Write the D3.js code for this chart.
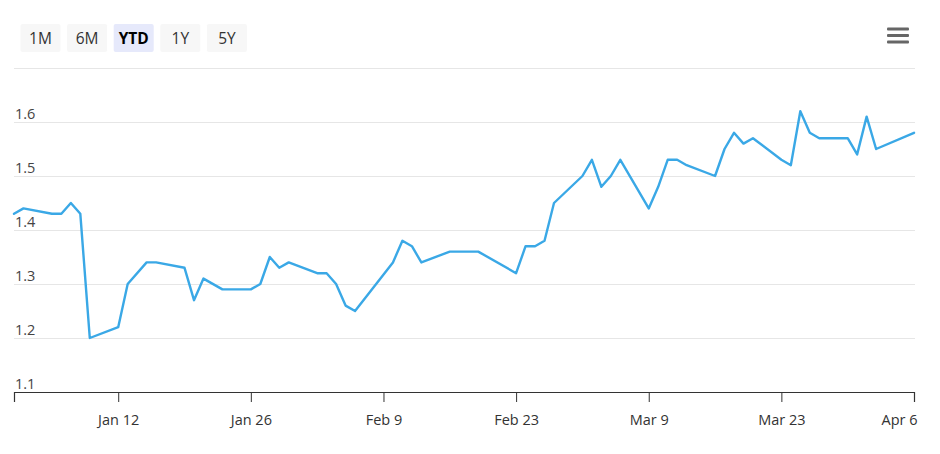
<!DOCTYPE html>
<html>
<head>
<meta charset="utf-8">
<script src="https://cdn.jsdelivr.net/npm/d3@7"></script>
<style>
  html, body { margin: 0; padding: 0; background: #fff; }
  svg { display: block; font-family: "Open Sans", "Noto Sans", sans-serif; }
</style>
</head>
<body>
<svg id="chart" width="940" height="454"></svg>
<script>
// ---- data ----
const dates = [
  "2015-01-01","2015-01-02","2015-01-05","2015-01-06","2015-01-07","2015-01-08","2015-01-09",
  "2015-01-12","2015-01-13","2015-01-15","2015-01-16","2015-01-19","2015-01-20","2015-01-21",
  "2015-01-23","2015-01-26","2015-01-27","2015-01-28","2015-01-29","2015-01-30",
  "2015-02-02","2015-02-03","2015-02-04","2015-02-05","2015-02-06","2015-02-10","2015-02-11",
  "2015-02-12","2015-02-13","2015-02-16","2015-02-19","2015-02-23","2015-02-24","2015-02-25",
  "2015-02-26","2015-02-27","2015-03-02","2015-03-03","2015-03-04","2015-03-05","2015-03-06",
  "2015-03-09","2015-03-10","2015-03-11","2015-03-12","2015-03-13","2015-03-16","2015-03-17",
  "2015-03-18","2015-03-19","2015-03-20","2015-03-23","2015-03-24","2015-03-25","2015-03-26",
  "2015-03-27","2015-03-30","2015-03-31","2015-04-01","2015-04-02","2015-04-06"
];
const values = [
  1.43,1.44,1.43,1.43,1.45,1.43,1.20,
  1.22,1.30,1.34,1.34,1.33,1.27,1.31,
  1.29,1.29,1.30,1.35,1.33,1.34,
  1.32,1.32,1.30,1.26,1.25,1.34,1.38,
  1.37,1.34,1.36,1.36,1.32,1.37,1.37,
  1.38,1.45,1.50,1.53,1.48,1.50,1.53,
  1.44,1.48,1.53,1.53,1.52,1.50,1.55,
  1.58,1.56,1.57,1.53,1.52,1.62,1.58,
  1.57,1.57,1.54,1.61,1.55,1.58
];
const xTickDates = ["2015-01-12","2015-01-26","2015-02-09","2015-02-23","2015-03-09","2015-03-23","2015-04-06"];
const yTicks = [1.1, 1.2, 1.3, 1.4, 1.5, 1.6, 1.7];
const yLabelTicks = [1.1, 1.2, 1.3, 1.4, 1.5, 1.6];
const buttons = ["1M", "6M", "YTD", "1Y", "5Y"];
const activeButton = "YTD";

// ---- setup ----
const parse = d3.utcParse("%Y-%m-%d");
const data = dates.map((d, i) => ({ date: parse(d), value: values[i] }));
const svg = d3.select("#chart");

const mLeft = 14, mRight = 914, mTop = 68, mBottom = 392;
const x = d3.scaleUtc().domain([parse("2015-01-01"), parse("2015-04-06")]).range([mLeft, mRight]);
const y = d3.scaleLinear().domain([1.1, 1.7]).range([mBottom, mTop]);

// range selector buttons
const bw = 40, bh = 28, bgap = 6.6, bx0 = 20.5, by0 = 24;
const bg = svg.append("g");
buttons.forEach((b, i) => {
  const g = bg.append("g").attr("transform", `translate(${bx0 + i * (bw + bgap)},${by0})`);
  g.append("rect").attr("width", bw).attr("height", bh).attr("rx", 2)
    .attr("fill", b === activeButton ? "#e6e9fb" : "#f7f7f7");
  g.append("text").attr("x", bw / 2).attr("y", bh / 2 + 5.5).attr("text-anchor", "middle")
    .attr("font-size", 15.5).attr("fill", b === activeButton ? "#000" : "#333")
    .attr("font-weight", b === activeButton ? 700 : 400)
    .text(b);
});

// hamburger menu
[29, 35.5, 42].forEach(yy => {
  svg.append("rect").attr("x", 887).attr("y", yy - 1.5).attr("width", 22).attr("height", 3)
    .attr("rx", 1).attr("fill", "#666");
});

// gridlines
svg.append("g").selectAll("line").data(yTicks.filter(t => t > 1.1)).join("line")
  .attr("x1", mLeft).attr("x2", mRight + 1)
  .attr("y1", d => Math.round(y(d)) + 0.5).attr("y2", d => Math.round(y(d)) + 0.5)
  .attr("stroke", "#e6e6e6").attr("stroke-width", 1);

// y labels
svg.append("g").selectAll("text").data(yLabelTicks).join("text")
  .attr("x", 15).attr("y", d => y(d) - 3)
  .attr("font-size", 14.5).attr("fill", "#444")
  .text(d => d3.format(".1f")(d));

// x axis
const xAxis = d3.axisBottom(x)
  .tickValues(xTickDates.map(parse))
  .tickSize(10)
  .tickFormat(d3.utcFormat("%b %-d"));
const gx = svg.append("g").attr("transform", `translate(0,${mBottom})`).call(xAxis);
gx.select(".domain").attr("stroke", "#333").attr("stroke-width", 1.2);
gx.selectAll(".tick line").attr("stroke", "#333");
const tickTexts = gx.selectAll(".tick text").attr("font-size", 14.5).attr("fill", "#333")
  .attr("font-family", "\"Open Sans\", \"Noto Sans\", sans-serif").attr("dy", "1.4em");
tickTexts.filter((d, i, n) => i === n.length - 1).attr("text-anchor", "end").attr("dx", 3);

// line
const line = d3.line().x(d => x(d.date)).y(d => y(d.value));
svg.append("path").datum(data)
  .attr("fill", "none").attr("stroke", "#3aa8e6").attr("stroke-width", 2.4)
  .attr("stroke-linejoin", "round").attr("stroke-linecap", "round")
  .attr("d", line);
</script>
</body>
</html>
